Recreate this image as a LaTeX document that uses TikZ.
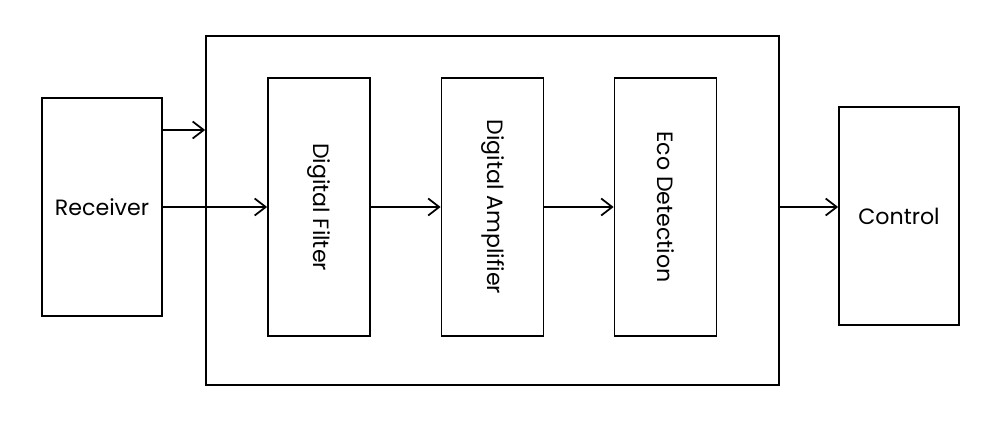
\documentclass[tikz,border=0pt]{standalone}
\usepackage{fontspec}
\setmainfont{Poppins}
\usetikzlibrary{positioning, arrows.meta, calc}

\begin{document}
\begin{tikzpicture}[
            % Estilos del diagrama de bloques
            every node/.style={font=\fontsize{12.6}{15}\selectfont},
            block/.style={rectangle, draw=black, line width=1pt, minimum width=2.4cm, minimum height=4.36cm, text centered},
            stage/.style={rectangle, draw=black, line width=1pt, rotate=-90, minimum width=5.16cm, minimum height=2.04cm, text centered},
            frame/.style={rectangle, draw=black, line width=1pt, minimum width=11.46cm, minimum height=6.98cm},
            arrow/.style={line width=1pt, -{Straight Barb[length=2.2mm, width=3.4mm]}}
        ]
            \useasboundingbox (0,0) rectangle (20,8.68);

            % Bloques externos
            \node (recv) [block] at (2.04,4.54) {Receiver};
            \node (ctrl) [block] at (17.98,4.36) {Control};

            % Caja del procesador
            \node (sys) [frame] at (9.85,4.47) {};

            % Etapas internas (giradas, el lado oeste es el ancla south)
            \node (filt) [stage] at (6.38,4.54) {Digital Filter};
            \node (amp) [stage] at (9.85,4.54) {Digital Amplifier};
            \node (eco) [stage] at (13.31,4.54) {Eco Detection};

            % Conexiones
            \coordinate (tap) at ([yshift=1.54cm]recv.east);
            \draw [arrow] (tap) -- (tap -| sys.west);
            \draw [arrow] (recv.east) -- (filt.south);
            \draw [arrow] (filt) -- (amp);
            \draw [arrow] (amp) -- (eco);
            \draw [arrow] (eco -| sys.east) -- (eco -| ctrl.west);

        \end{tikzpicture}
\end{document}
